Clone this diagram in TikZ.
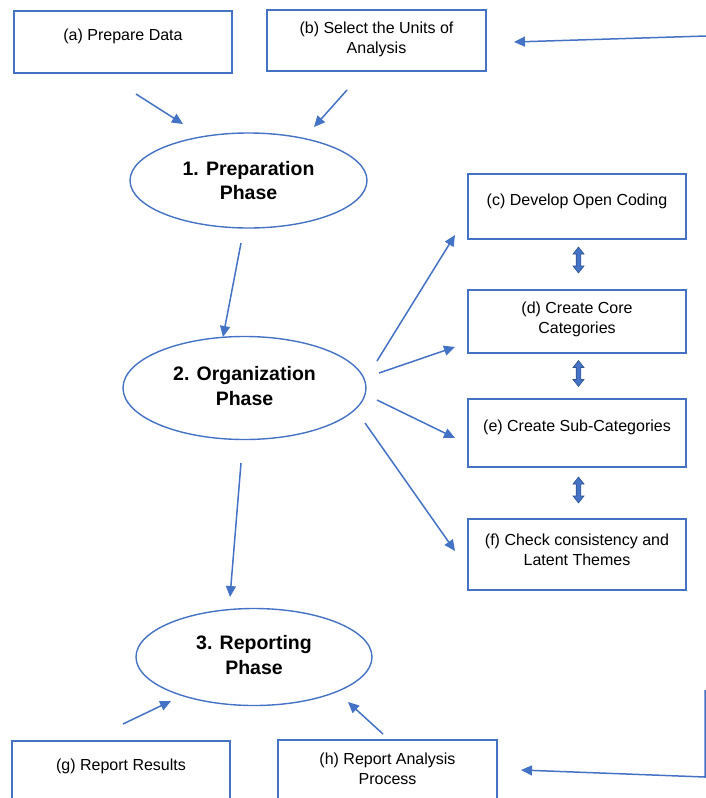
\documentclass[tikz,border=0pt]{standalone}
\usepackage{fontspec}
\setmainfont{Liberation Sans}
\usetikzlibrary{arrows.meta,shapes.geometric}
\definecolor{lblue}{HTML}{4472C4}
\definecolor{dblue}{HTML}{2F528F}
\begin{document}
\begin{tikzpicture}[x=1pt,y=-1pt,
  box/.style={draw=lblue,line width=1.6pt,minimum width=218pt,inner sep=0pt},
  txt/.style={font=\fontsize{16}{20}\selectfont,align=center,inner sep=0pt},
  phase/.style={ellipse,draw=lblue,line width=1.4pt,inner sep=0pt},
  ptxt/.style={font=\fontsize{19.5}{24.5}\selectfont\bfseries,align=center,inner sep=0pt},
  arr/.style={draw=lblue,line width=1.5pt,-{Triangle[length=11pt,width=10pt]}},
  dbl/.style={fill=lblue,draw=dblue,line width=0.6pt}]
\useasboundingbox (0,0) rectangle (706,798);
\clip (0,0) rectangle (706,798);

% boxes
\node[box,minimum height=62pt] (a) at (123,42) {};
\node[txt] (at) at (123,36) {(a) Prepare Data};
\node[box,minimum width=219pt,minimum height=61pt] (b) at (376.5,40.5) {};
\node[txt] (bt) at (376.5,39) {(b) Select the Units of\\Analysis};
\node[box,minimum height=65pt] (c) at (577,206.5) {};
\node[txt] (ct) at (577,201) {(c) Develop Open Coding};
\node[box,minimum height=63pt] (d) at (577,321.5) {};
\node[txt] (dt) at (577,319) {(d) Create Core\\Categories};
\node[box,minimum height=68pt] (e) at (577,433) {};
\node[txt] (et) at (577,427) {(e) Create Sub-Categories};
\node[box,minimum height=71pt] (f) at (577,554.5) {};
\node[txt] (ft) at (577,549.5) {(f) Check consistency and\\Latent Themes};
\node[box,minimum height=79pt] (g) at (121,780.5) {};
\node[txt] (gt) at (121,766) {(g) Report Results};
\node[box,minimum width=219pt,minimum height=79pt] (h) at (387.5,779.5) {};
\node[txt] (ht) at (387.5,769) {(h) Report Analysis\\Process};

% phases
\node[phase,minimum width=237pt,minimum height=95pt] (p1) at (248.5,180.5) {};
\node[ptxt] (p1t) at (248.5,180.5) {1. Preparation\\Phase};
\node[phase,minimum width=243pt,minimum height=103pt] (p2) at (244.5,388) {};
\node[ptxt] (p2t) at (244.5,386) {2. Organization\\Phase};
\node[phase,minimum width=236pt,minimum height=97pt] (p3) at (254,657) {};
\node[ptxt] (p3t) at (254,655) {3. Reporting\\Phase};

% connector end points
\coordinate (a1) at (136,94);   \coordinate (a2) at (183,124);
\coordinate (b1) at (347,90);   \coordinate (b2) at (314,127);
\coordinate (q1) at (241,243);  \coordinate (q2) at (223,337);
\coordinate (r1) at (241,463);  \coordinate (r2) at (230,597);
\coordinate (c1) at (377,361);  \coordinate (c2) at (455,235);
\coordinate (d1) at (379,373);  \coordinate (d2) at (455,347);
\coordinate (e1) at (377,400);  \coordinate (e2) at (455,438);
\coordinate (f1) at (365,423);  \coordinate (f2) at (455,551);
\coordinate (g1) at (123,724);  \coordinate (g2) at (171,701);
\coordinate (h1) at (383,734);  \coordinate (h2) at (348,702);
\coordinate (tr) at (706,36);   \coordinate (tb) at (514,42);
\coordinate (br1) at (705,690); \coordinate (br2) at (705,777); \coordinate (hb) at (521,770);

\draw[arr] (a1) -- (a2);
\draw[arr] (b1) -- (b2);
\draw[arr] (q1) -- (q2);
\draw[arr] (r1) -- (r2);
\draw[arr] (c1) -- (c2);
\draw[arr] (d1) -- (d2);
\draw[arr] (e1) -- (e2);
\draw[arr] (f1) -- (f2);
\draw[arr] (g1) -- (g2);
\draw[arr] (h1) -- (h2);
\draw[arr] (tr) -- (tb);
\draw[arr] (br1) -- (br2) -- (hb);

% double arrows between boxes
\foreach \yc/\n in {260/cd,373.5/de,490/ef}{
  \draw[dbl] (578.5,\yc-13) -- (584,\yc-6) -- (580.8,\yc-6) -- (580.8,\yc+6) -- (584,\yc+6)
    -- (578.5,\yc+13) -- (573,\yc+6) -- (576.2,\yc+6) -- (576.2,\yc-6) -- (573,\yc-6) -- cycle;
}
\end{tikzpicture}
\end{document}
